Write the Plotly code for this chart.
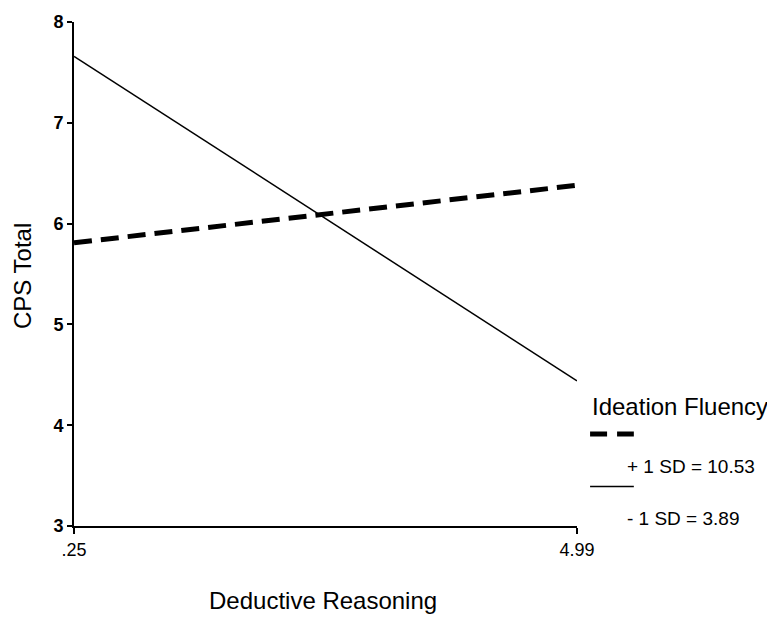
import plotly.graph_objects as go

# Data
x_vals = [0.25, 4.99]
x_tick_labels = [".25", "4.99"]
y_ticks = [3, 4, 5, 6, 7, 8]
y_tick_labels = ["<b>3</b>", "<b>4</b>", "<b>5</b>", "<b>6</b>", "<b>7</b>", "<b>8</b>"]
plus_sd = [5.81, 6.38]     # Ideation Fluency +1 SD = 10.53 (dashed)
minus_sd = [7.66, 4.44]    # Ideation Fluency -1 SD = 3.89 (solid)
legend_title = "Ideation Fluency"
legend_labels = ["+ 1 SD = 10.53", "- 1 SD = 3.89"]
x_title = "Deductive Reasoning"
y_title = "CPS Total"

FONT = "Arial, 'Liberation Sans', Helvetica, sans-serif"

fig = go.Figure()
fig.add_trace(go.Scatter(x=x_vals, y=plus_sd, mode="lines",
                         line=dict(color="black", width=5, dash="18px,9px"),
                         showlegend=False, hoverinfo="skip"))
fig.add_trace(go.Scatter(x=x_vals, y=minus_sd, mode="lines",
                         line=dict(color="black", width=1.5),
                         showlegend=False, hoverinfo="skip"))

fig.update_layout(
    width=767, height=617,
    margin=dict(l=74, r=190, t=16, b=91),
    paper_bgcolor="white", plot_bgcolor="white",
    font=dict(family=FONT, color="black"),
    showlegend=False,
    xaxis=dict(range=[x_vals[0], x_vals[-1]], tickvals=x_vals, ticktext=x_tick_labels,
               showline=True, linecolor="black", linewidth=2, showgrid=False,
               zeroline=False, ticks="outside", ticklen=6, tickwidth=2,
               tickcolor="black", tickfont=dict(size=18)),
    yaxis=dict(range=[3, 8], tickvals=y_ticks, ticktext=y_tick_labels,
               showline=True, linecolor="black", linewidth=2, showgrid=False,
               zeroline=False, ticks="outside", ticklen=5, tickwidth=2,
               tickcolor="black", tickfont=dict(size=18)),
)

# Legend sample lines (paper coords)
fig.add_shape(type="line", xref="paper", yref="paper",
              x0=1.026, x1=1.113, y0=0.1824, y1=0.1824,
              line=dict(color="black", width=5, dash="17px,10px"))
fig.add_shape(type="line", xref="paper", yref="paper",
              x0=1.026, x1=1.113, y0=0.0784, y1=0.0784,
              line=dict(color="black", width=1.5))

fig.add_annotation(text=legend_title, xref="paper", yref="paper",
                   x=1.026, y=0.237, xanchor="left", yanchor="middle",
                   showarrow=False, font=dict(size=24))
fig.add_annotation(text=legend_labels[0], xref="paper", yref="paper",
                   x=1.0954, y=0.1176, xanchor="left", yanchor="middle",
                   showarrow=False, font=dict(size=19))
fig.add_annotation(text=legend_labels[1], xref="paper", yref="paper",
                   x=1.0954, y=0.0157, xanchor="left", yanchor="middle",
                   showarrow=False, font=dict(size=19))

# Axis titles
fig.add_annotation(text=y_title, xref="paper", yref="paper",
                   x=-0.1034, y=0.496, xanchor="center", yanchor="middle",
                   textangle=-90, showarrow=False, font=dict(size=24))
fig.add_annotation(text=x_title, xref="paper", yref="paper",
                   x=0.495, y=-0.147, xanchor="center", yanchor="middle",
                   showarrow=False, font=dict(size=24))

fig.write_html("out.html")
